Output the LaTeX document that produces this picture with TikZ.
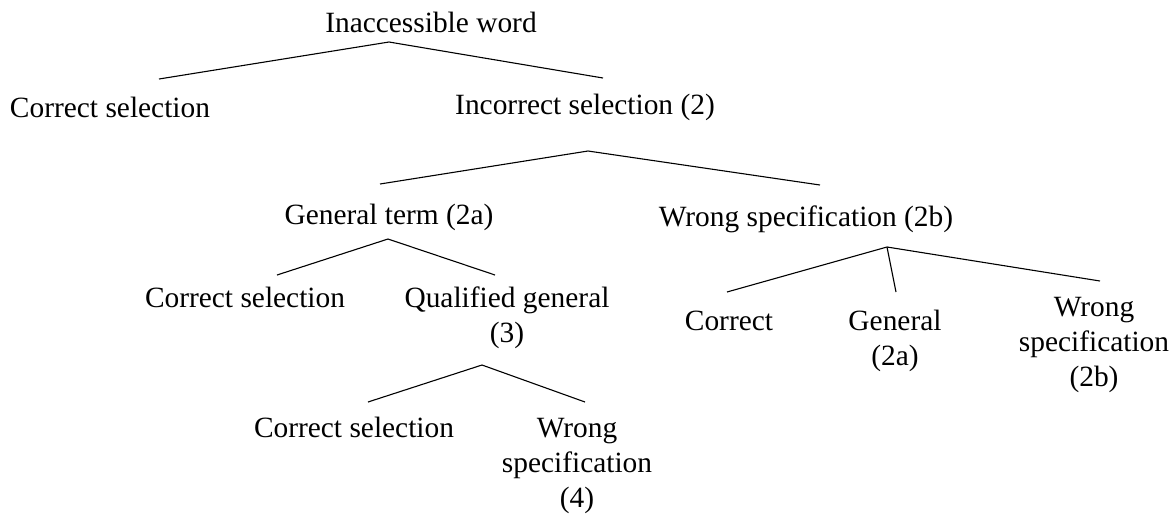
\documentclass[tikz,border=0pt]{standalone}
\usepackage{fontspec}
\setmainfont{Liberation Serif}
\usetikzlibrary{positioning}
\tikzset{
  term/.style={
    inner sep=0pt,
    anchor=base,
    align=center,
    font=\fontsize{14.7}{17.5}\selectfont},
  branch/.style={draw, line width=0.55pt},
}

\begin{document}
\begin{tikzpicture}
  [x=0.5pt, y=-0.5pt]
  \useasboundingbox (0,0) rectangle (1175,516);

     % anchor=base sits on the last line of a node
     \node[term] (InaccessibleWord) at (431,32) {Inaccessible word};
     \node[term] (CorrectSelA) at (110,117) {Correct selection};
     \node[term] (IncorrectSel) at (585,114) {Incorrect selection (2)};
     \node[term] (GeneralTerm) at (389,224) {General term (2a)};
     \node[term] (WrongSpec) at (806,226) {Wrong specification (2b)};
     \node[term] (CorrectSelB) at (245,307) {Correct selection};
     \node[term] (QualGeneral) at (507,342) {Qualified general\\(3)};
     \node[term] (CorrectB) at (729,330) {Correct};
     \node[term] (GeneralB) at (895,365) {General\\(2a)};
     \node[term] (WrongSpecB) at (1094,386) {Wrong\\specification\\(2b)};
     \node[term] (CorrectSelC) at (354,437) {Correct selection};
     \node[term] (WrongSpecC) at (577,507) {Wrong\\specification\\(4)};

     % forks and tips of the branches
     \coordinate (InaccessibleWordFork) at (389,42);
     \coordinate (CorrectSelATip) at (159,79);
     \coordinate (IncorrectSelTip) at (603,78);
     \coordinate (IncorrectSelFork) at (588,151);
     \coordinate (GeneralTermTip) at (380,184);
     \coordinate (WrongSpecTip) at (820,185);
     \coordinate (GeneralTermFork) at (388,239);
     \coordinate (CorrectSelBTip) at (277,275);
     \coordinate (QualGeneralTip) at (495,275);
     \coordinate (WrongSpecFork) at (887,247);
     \coordinate (CorrectBTip) at (727,292);
     \coordinate (GeneralBTip) at (896,292);
     \coordinate (WrongSpecBTip) at (1100,281);
     \coordinate (QualGeneralFork) at (482,365);
     \coordinate (CorrectSelCTip) at (368,402);
     \coordinate (WrongSpecCTip) at (585,402);

     \draw[branch] (CorrectSelATip) -- (InaccessibleWordFork) -- (IncorrectSelTip);
     \draw[branch] (GeneralTermTip) -- (IncorrectSelFork) -- (WrongSpecTip);
     \draw[branch] (CorrectSelBTip) -- (GeneralTermFork) -- (QualGeneralTip);
     \draw[branch] (CorrectBTip) -- (WrongSpecFork) -- (WrongSpecBTip);
     \draw[branch] (WrongSpecFork) -- (GeneralBTip);
     \draw[branch] (CorrectSelCTip) -- (QualGeneralFork) -- (WrongSpecCTip);

\end{tikzpicture}
\end{document}
